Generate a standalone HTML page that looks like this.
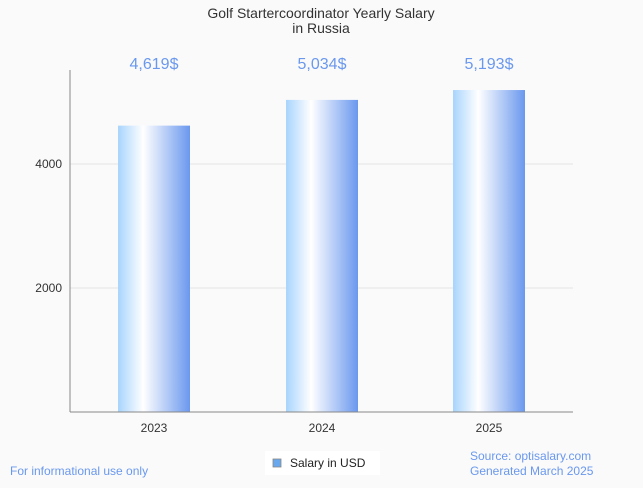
<!DOCTYPE html>
<html><head><meta charset="utf-8"><style>
body{margin:0;background:#fafafa;font-family:"Liberation Sans",sans-serif}
svg text{font-family:"Liberation Sans",sans-serif}
</style></head><body>
<svg id="c" width="643" height="483">
<defs><linearGradient id="g" x1="0" x2="1" y1="0" y2="0">
<stop offset="0" stop-color="#a8d4fc"/><stop offset="0.35" stop-color="#ffffff"/><stop offset="1" stop-color="#6a98ee"/></linearGradient></defs>
<text x="321" y="18" text-anchor="middle" font-size="14" fill="#333">Golf Startercoordinator Yearly Salary</text>
<text x="321" y="33" text-anchor="middle" font-size="14" fill="#333">in Russia</text>
<g id="grid"></g><g id="bars"></g>
<line x1="70" y1="70" x2="70" y2="412" stroke="#888"/>
<line x1="70" y1="412" x2="573" y2="412" stroke="#888"/>
<g><rect x="265" y="451" width="115" height="24" fill="#fff"/>
<rect x="273" y="459" width="8" height="8" fill="#6aa8ee" stroke="#888" stroke-width="0.8"/>
<text x="290" y="467" font-size="12" fill="#222">Salary in USD</text></g>
<text x="10" y="475" font-size="12" fill="#6a98ee">For informational use only</text>
<text x="470" y="460" font-size="12" fill="#6a98ee">Source: optisalary.com</text>
<text x="470" y="475" font-size="12" fill="#6a98ee">Generated March 2025</text>
</svg>
<script>
const categories=["2023","2024","2025"];
const values=[4619,5034,5193];
const labels=["4,619$","5,034$","5,193$"];
const yTicks=[2000,4000];
const ns="http://www.w3.org/2000/svg";
const y=v=>412-v*0.062;
const xc=i=>[154,322,489][i];
function mk(t,a,p){const e=document.createElementNS(ns,t);for(const k in a)e.setAttribute(k,a[k]);p.appendChild(e);return e;}
const grid=document.getElementById('grid'),bars=document.getElementById('bars');
yTicks.forEach(t=>{
 const l=mk('line',{x1:70,x2:573,y1:y(t),y2:y(t),stroke:'#e4e4e4'},grid);
 
 
 const tx=mk('text',{x:62,y:y(t)+4,'text-anchor':'end','font-size':12,fill:'#333'},grid);tx.textContent=t;
 
 
});
categories.forEach((c,i)=>{
 const r=mk('rect',{x:xc(i)-36,y:y(values[i]),width:72,height:412-y(values[i]),fill:'url(#g)'},bars);
 
 
 const v=mk('text',{x:xc(i),y:69,'text-anchor':'middle','font-size':16,fill:'#6a98ee'},bars);v.textContent=labels[i];
 
 
 const t=mk('text',{x:xc(i),y:432,'text-anchor':'middle','font-size':12,fill:'#333'},bars);t.textContent=c;
 
 
});
</script>
</body></html>
